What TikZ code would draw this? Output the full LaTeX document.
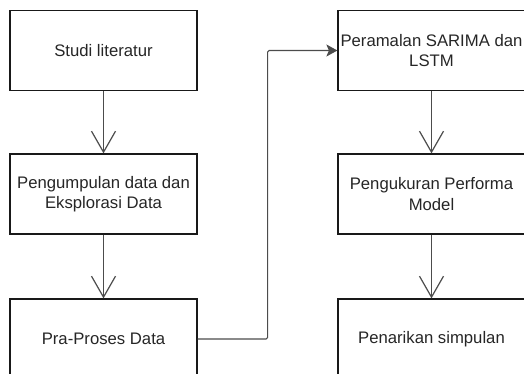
\documentclass[tikz,border=0pt]{standalone}
\usepackage{fontspec}
\setmainfont{Liberation Sans}
\usetikzlibrary{arrows.meta}
\tikzset{
  stepbox/.style={draw=black!90, line width=1.2pt, minimum width=187pt, minimum height=80pt,
    inner sep=0pt, align=center, text=black!85, font=\fontsize{16.7}{20.5}\selectfont},
  flow/.style={draw=black!70, line width=1.2pt, -{Straight Barb[length=21pt,width=24pt,line width=1.2pt]}},
  link/.style={draw=black!70, line width=1.2pt, rounded corners=1.5pt, -{Stealth[length=11pt,width=12pt,inset=2.5pt]}}
}
\begin{document}
\begin{tikzpicture}[x=1pt,y=-1pt]
\useasboundingbox (0,0) rectangle (524,374);
\clip (0,0) rectangle (524,374);
\node[stepbox] (p1) at (103.5,50.5) {Studi literatur};
\node[stepbox] (p2) at (103.5,194) {Pengumpulan data dan\\Eksplorasi Data};
\node[stepbox] (p3) at (103.5,339) {Pra-Proses Data};
\node[stepbox] (p4) at (431.5,50.5) {Peramalan SARIMA dan\\LSTM};
\node[stepbox] (p5) at (431.5,194) {Pengukuran Performa\\Model};
\node[stepbox] (p6) at (431.5,339) {Penarikan simpulan};
\draw[flow] (p1) -- (p2);
\draw[flow] (p2) -- (p3);
\draw[flow] (p4) -- (p5);
\draw[flow] (p5) -- (p6);
\draw[link] (p3.east) -- ++(70,0) |- (p4.west);
\end{tikzpicture}
\end{document}
